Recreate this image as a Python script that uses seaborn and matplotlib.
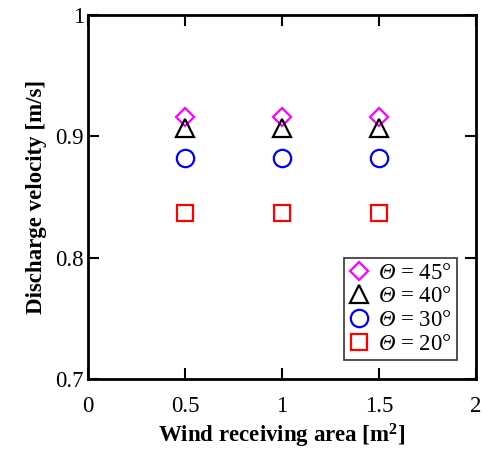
import matplotlib
matplotlib.use("Agg")
import matplotlib.pyplot as plt
import seaborn as sns
import pandas as pd

sns.set_theme(style="ticks")
plt.rcParams['font.family'] = ['Liberation Serif', 'DejaVu Serif']
plt.rcParams['mathtext.fontset'] = 'custom'
plt.rcParams['mathtext.rm'] = 'Liberation Serif:italic'
plt.rcParams['mathtext.it'] = 'Liberation Serif:italic'
plt.rcParams['mathtext.bf'] = 'Liberation Serif:bold'
plt.rcParams['text.color'] = 'black'
plt.rcParams['axes.labelcolor'] = 'black'

area = [0.5, 1.0, 1.5]
v45 = [0.916, 0.916, 0.916]
v40 = [0.907, 0.907, 0.907]
v30 = [0.882, 0.882, 0.882]
v20 = [0.837, 0.837, 0.837]
labels = [r"$\Theta$ = 45°", r"$\Theta$ = 40°",
          r"$\Theta$ = 30°", r"$\Theta$ = 20°"]
series = [v45, v40, v30, v20]
colors = ["#ff00ff", "#000000", "#0000ff", "#ff0000"]
markers = ["D", "^", "o", "s"]
msizes = [9, 13, 12.5, 12]

fig = plt.figure(figsize=(4.84, 4.55), dpi=100)
ax = fig.add_axes([88/484, 1-379/455, (476-88)/484, (379-15)/455])

for vals, lab, c, m, ms in zip(series, labels, colors, markers, msizes):
    df = pd.DataFrame({"x": area, "y": vals})
    sns.lineplot(data=df, x="x", y="y", ax=ax, linestyle="", marker=m,
                 markersize=ms, markerfacecolor="none", markeredgecolor=c,
                 markeredgewidth=1.6, color=c, label=lab)

ax.set_xlim(0, 2)
ax.set_ylim(0.7, 1.0)
ax.set_xticks([0, 0.5, 1, 1.5, 2])
ax.set_xticklabels(["0", "0.5", "1", "1.5", "2"])
ax.set_yticks([0.7, 0.8, 0.9, 1.0])
ax.set_yticklabels(["0.7", "0.8", "0.9", "1"])
ax.tick_params(direction="in", length=8, width=1.5, labelsize=16.5,
               top=True, right=True, colors="black")
ax.tick_params(axis="x", pad=12)
ax.tick_params(axis="y", pad=3)
for s in ax.spines.values():
    s.set_linewidth(2)
    s.set_color("black")

ax.set_xlabel(r"Wind receiving area [m$^\mathbf{2}$]", fontsize=16.5, fontweight="bold", labelpad=4, color="black")
ax.set_ylabel("Discharge velocity [m/s]", fontsize=16.5, fontweight="bold", labelpad=6, color="black")

leg = ax.legend(loc="lower right", fontsize=16.5, frameon=True, fancybox=False,
                edgecolor="black", handlelength=0.9, handletextpad=0.4,
                borderpad=0.2, labelspacing=0.12, borderaxespad=0.85)
leg.get_frame().set_linewidth(1.2)
for t in leg.get_texts():
    t.set_color("black")

fig.savefig("out.png", dpi=100)
